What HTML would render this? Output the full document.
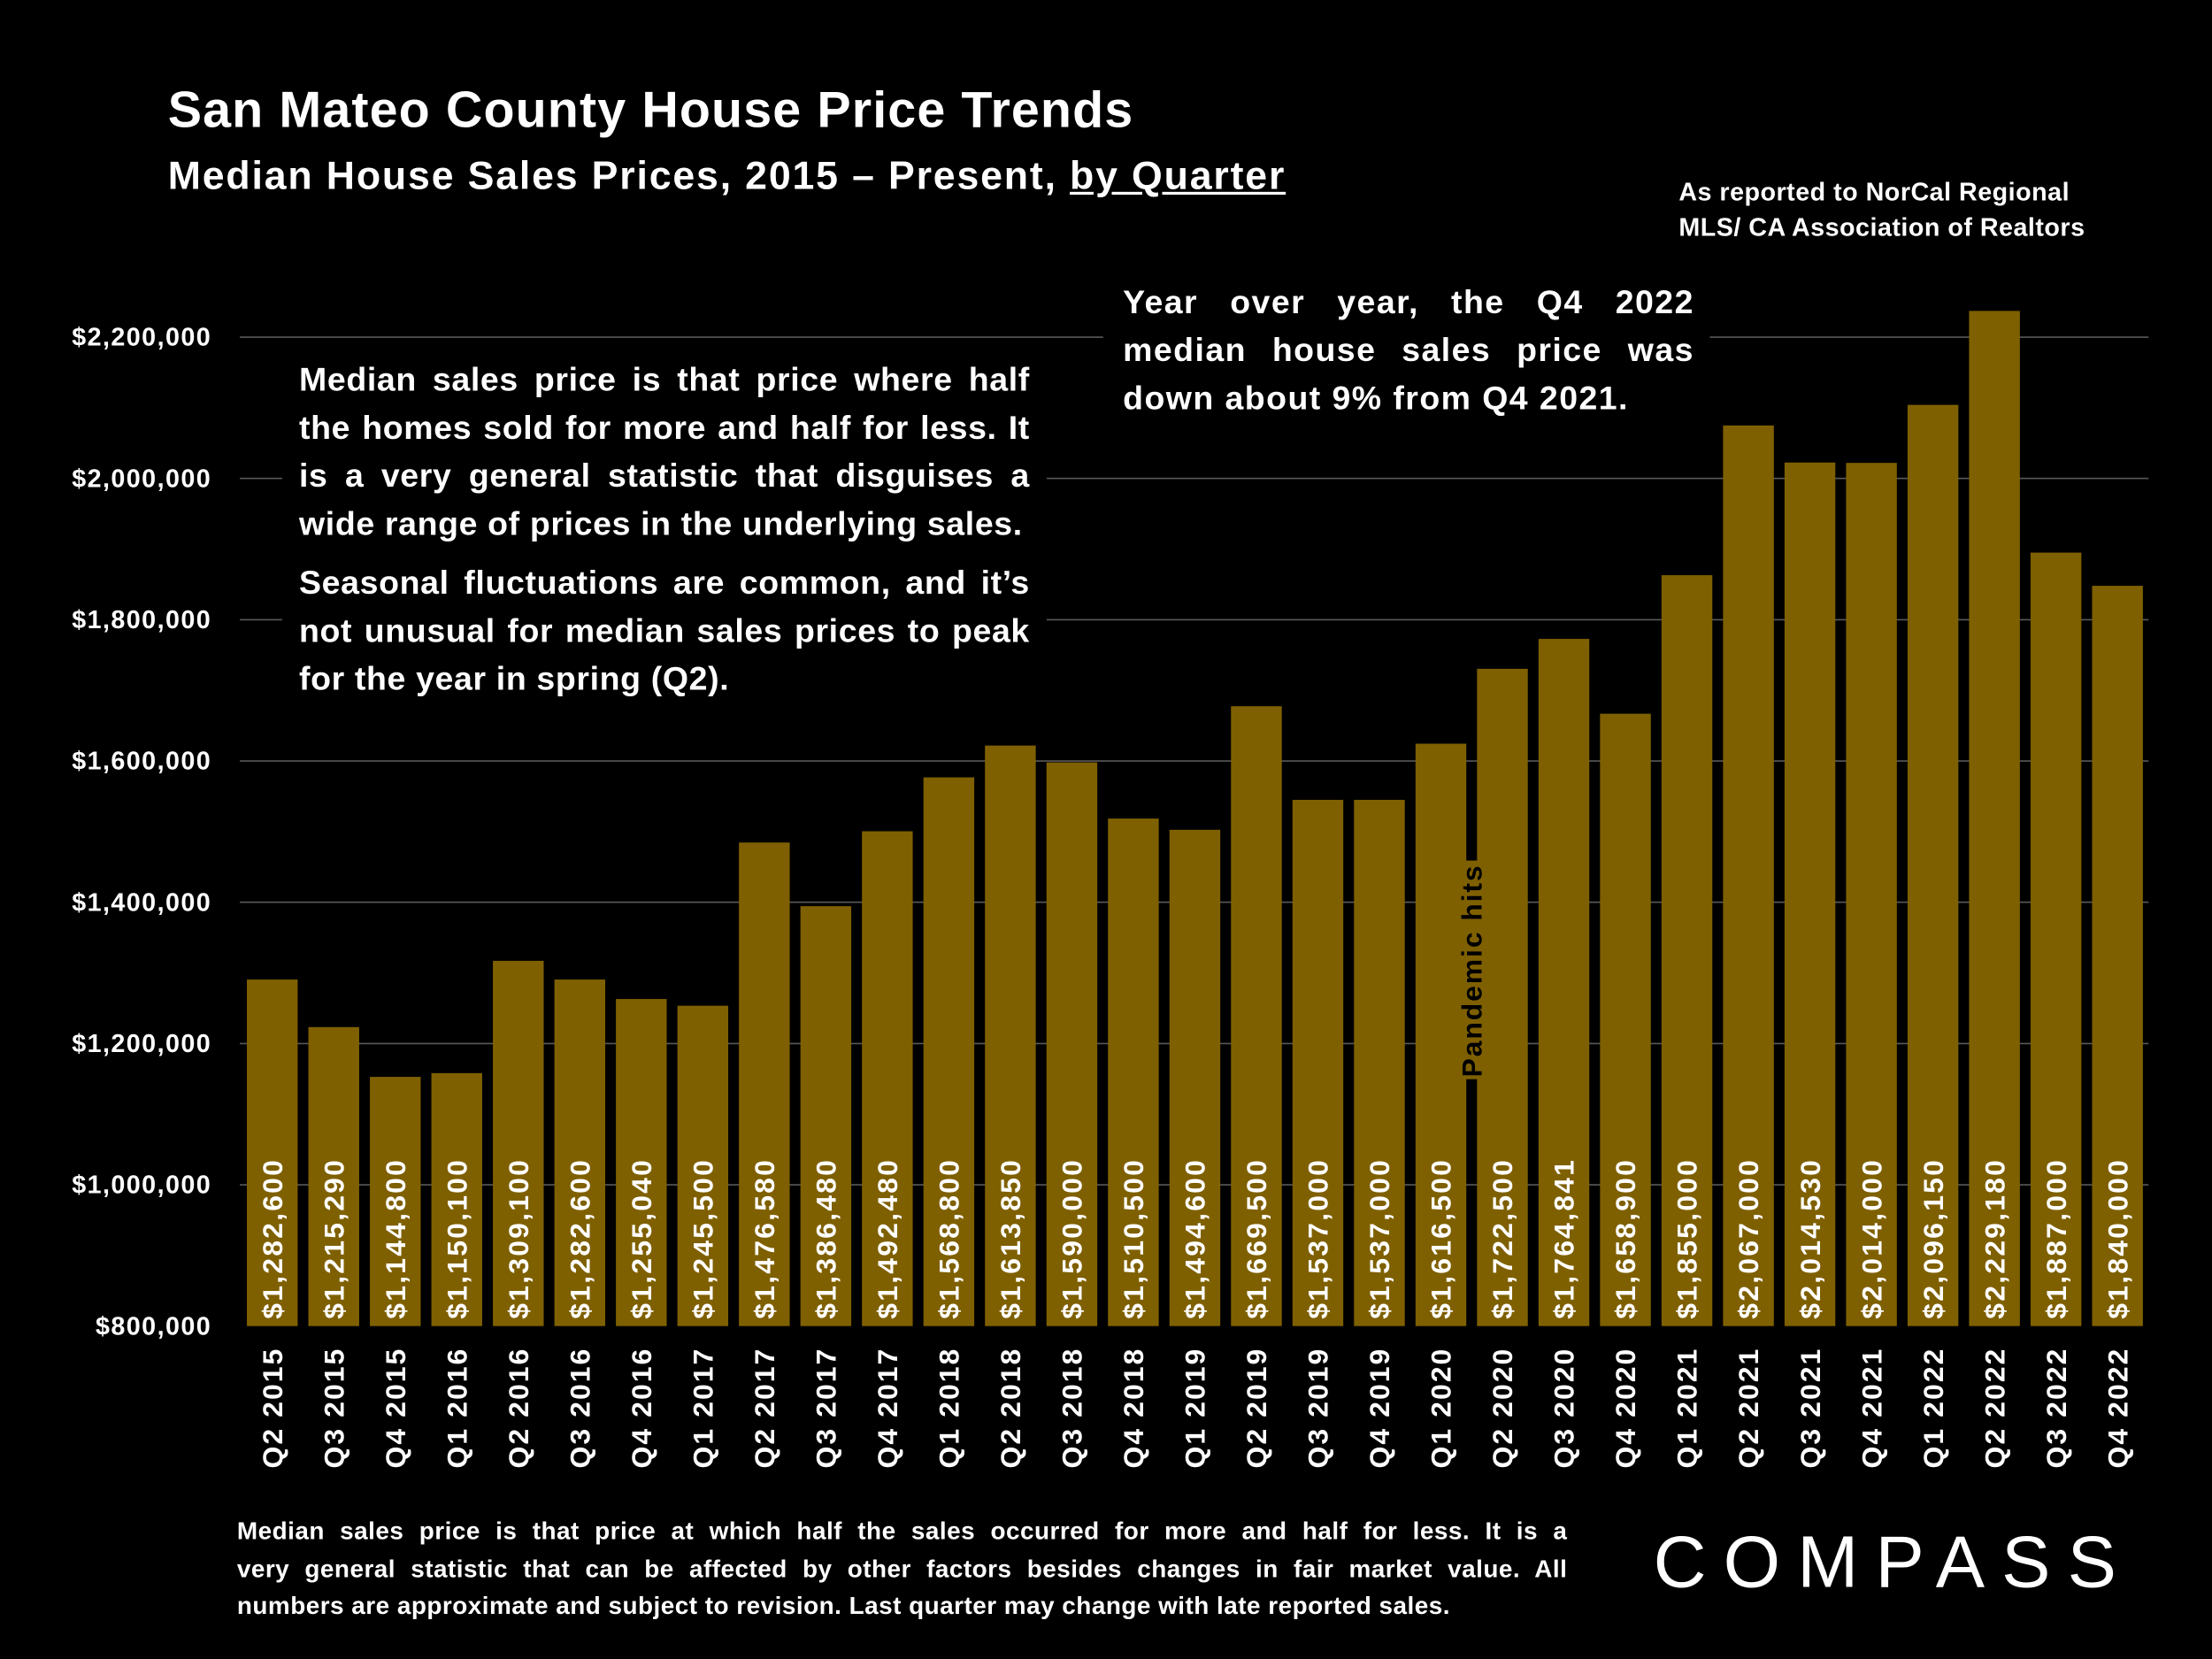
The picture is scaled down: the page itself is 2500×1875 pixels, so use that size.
<!DOCTYPE html>
<html><head><meta charset="utf-8"><style>
html,body{margin:0;padding:0;background:#000;width:2500px;height:1875px;overflow:hidden}
#stage{position:absolute;left:0;top:0;width:1568px;height:1176px;transform:scale(1.59439);transform-origin:0 0;font-family:"Liberation Sans",sans-serif;color:#fff;font-weight:bold}
.abs{position:absolute}
.jl{text-align:justify;text-align-last:justify;white-space:nowrap}
</style></head><body>
<div id="stage">
<svg id="chart" class="abs" style="left:0;top:0" width="1568" height="1176" viewBox="0 0 1568 1176"></svg>
<div class="abs" style="left:119px;top:57px;font-size:36px;letter-spacing:0.7px">San Mateo County House Price Trends</div>
<div class="abs" style="left:119px;top:109px;font-size:28px;letter-spacing:1.15px">Median House Sales Prices, 2015 – Present, <span style="text-decoration:underline">by Quarter</span></div>
<div class="abs" style="left:1190px;top:124px;font-size:18px;line-height:25px;letter-spacing:0.3px">As reported to NorCal Regional<br>MLS/ CA Association of Realtors</div>
<div class="abs" style="left:200px;top:252px;width:542px;height:250px;background:#000"></div>
<div class="abs" style="left:212px;top:252px;width:518px;font-size:23.5px;line-height:34px;letter-spacing:0.4px">
<div style="text-align:justify">Median sales price is that price where half the homes sold for more and half for less. It is a very general statistic that disguises a wide range of prices in the underlying sales.</div>
<div style="text-align:justify;margin-top:8px">Seasonal fluctuations are common, and it’s not unusual for median sales prices to peak for the year in spring (Q2).</div>
</div>
<div class="abs" style="left:782px;top:198px;width:430px;height:100px;background:#000"></div>
<div class="abs" style="left:796px;top:197px;width:405px;font-size:23.5px;line-height:34px;text-align:justify;letter-spacing:0.9px">Year over year, the Q4 2022 median house sales price was down about 9% from Q4 2021.</div>
<div class="abs" style="left:168px;top:1072px;width:943px;font-size:17.5px;line-height:26.5px;letter-spacing:0.3px">
<div class="jl">Median sales price is that price at which half the sales occurred for more and half for less. It is a</div>
<div class="jl">very general statistic that can be affected by other factors besides changes in fair market value. All</div>
<div>numbers are approximate and subject to revision. Last quarter may change with late reported sales.</div>
</div>
<div class="abs" style="left:1172px;top:1078px;font-size:52px;font-weight:normal;letter-spacing:12px">COMPASS</div>
</div>
<script>
const categories=["Q2 2015","Q3 2015","Q4 2015","Q1 2016","Q2 2016","Q3 2016","Q4 2016","Q1 2017","Q2 2017","Q3 2017","Q4 2017","Q1 2018","Q2 2018","Q3 2018","Q4 2018","Q1 2019","Q2 2019","Q3 2019","Q4 2019","Q1 2020","Q2 2020","Q3 2020","Q4 2020","Q1 2021","Q2 2021","Q3 2021","Q4 2021","Q1 2022","Q2 2022","Q3 2022","Q4 2022"];
const values=[1282600,1215290,1144800,1150100,1309100,1282600,1255040,1245500,1476580,1386480,1492480,1568800,1613850,1590000,1510500,1494600,1669500,1537000,1537000,1616500,1722500,1764841,1658900,1855000,2067000,2014530,2014000,2096150,2229180,1887000,1840000];
const yTicks=[800000,1000000,1200000,1400000,1600000,1800000,2000000,2200000];
const NS="http://www.w3.org/2000/svg";
const svg=document.getElementById('chart');
const yMin=800000,yMax=2200000,yTop=239,yBot=940;
function y(v){return yBot-(v-yMin)/(yMax-yMin)*(yBot-yTop);}
const x0=193,step=(1501-193)/30,bw=36;
function x(i){return x0+i*step;}
function fmt(v){return '$'+v.toLocaleString('en-US');}
function mk(t,a){const e=document.createElementNS(NS,t);for(const k in a)e.setAttribute(k,a[k]);svg.appendChild(e);return e;}
yTicks.forEach(function(t){
  if(t>yMin){const g=mk('line',{x1:170,x2:1523,y1:y(t),y2:y(t),stroke:'#595959','stroke-width':1});
  
  }
  const l=mk('text',{x:150,y:y(t)+6,'text-anchor':'end',fill:'#fff','font-size':18,'font-weight':'bold','letter-spacing':'0.9','font-family':'Liberation Sans, sans-serif'});
  l.textContent=fmt(t);
  
  
});
values.forEach(function(v,i){
  const cx=x(i);
  const top=y(v)-4;
  const r=mk('rect',{x:cx-bw/2,y:top,width:bw,height:yBot-top,fill:'#7f6000'});
  
  
  const vl=mk('text',{transform:'translate('+(cx+7)+',935) rotate(-90)',fill:'#fff','font-size':20,'font-weight':'bold','letter-spacing':'1.4','font-family':'Liberation Sans, sans-serif'});
  vl.textContent=fmt(v);
  
  
  const xl=mk('text',{transform:'translate('+(cx+7)+',955) rotate(-90)','text-anchor':'end',fill:'#fff','font-size':20,'font-weight':'bold','letter-spacing':'1.3','font-family':'Liberation Sans, sans-serif'});
  xl.textContent=categories[i];
  
  
});
const pi=categories.indexOf("Q1 2020");
const px=(x(pi)+x(pi+1))/2;
const pl=mk('rect',{x:px-3,y:587,width:6,height:201,fill:'#000'});


const pb=mk('rect',{x:px-11,y:610,width:22,height:155,fill:'#7f6000'});


const pt=mk('text',{transform:'translate('+(px+7)+',688) rotate(-90)','text-anchor':'middle',fill:'#000','font-size':20,'font-weight':'bold','letter-spacing':'1.2','font-family':'Liberation Sans, sans-serif'});
pt.textContent='Pandemic hits';


</script>
</body></html>
